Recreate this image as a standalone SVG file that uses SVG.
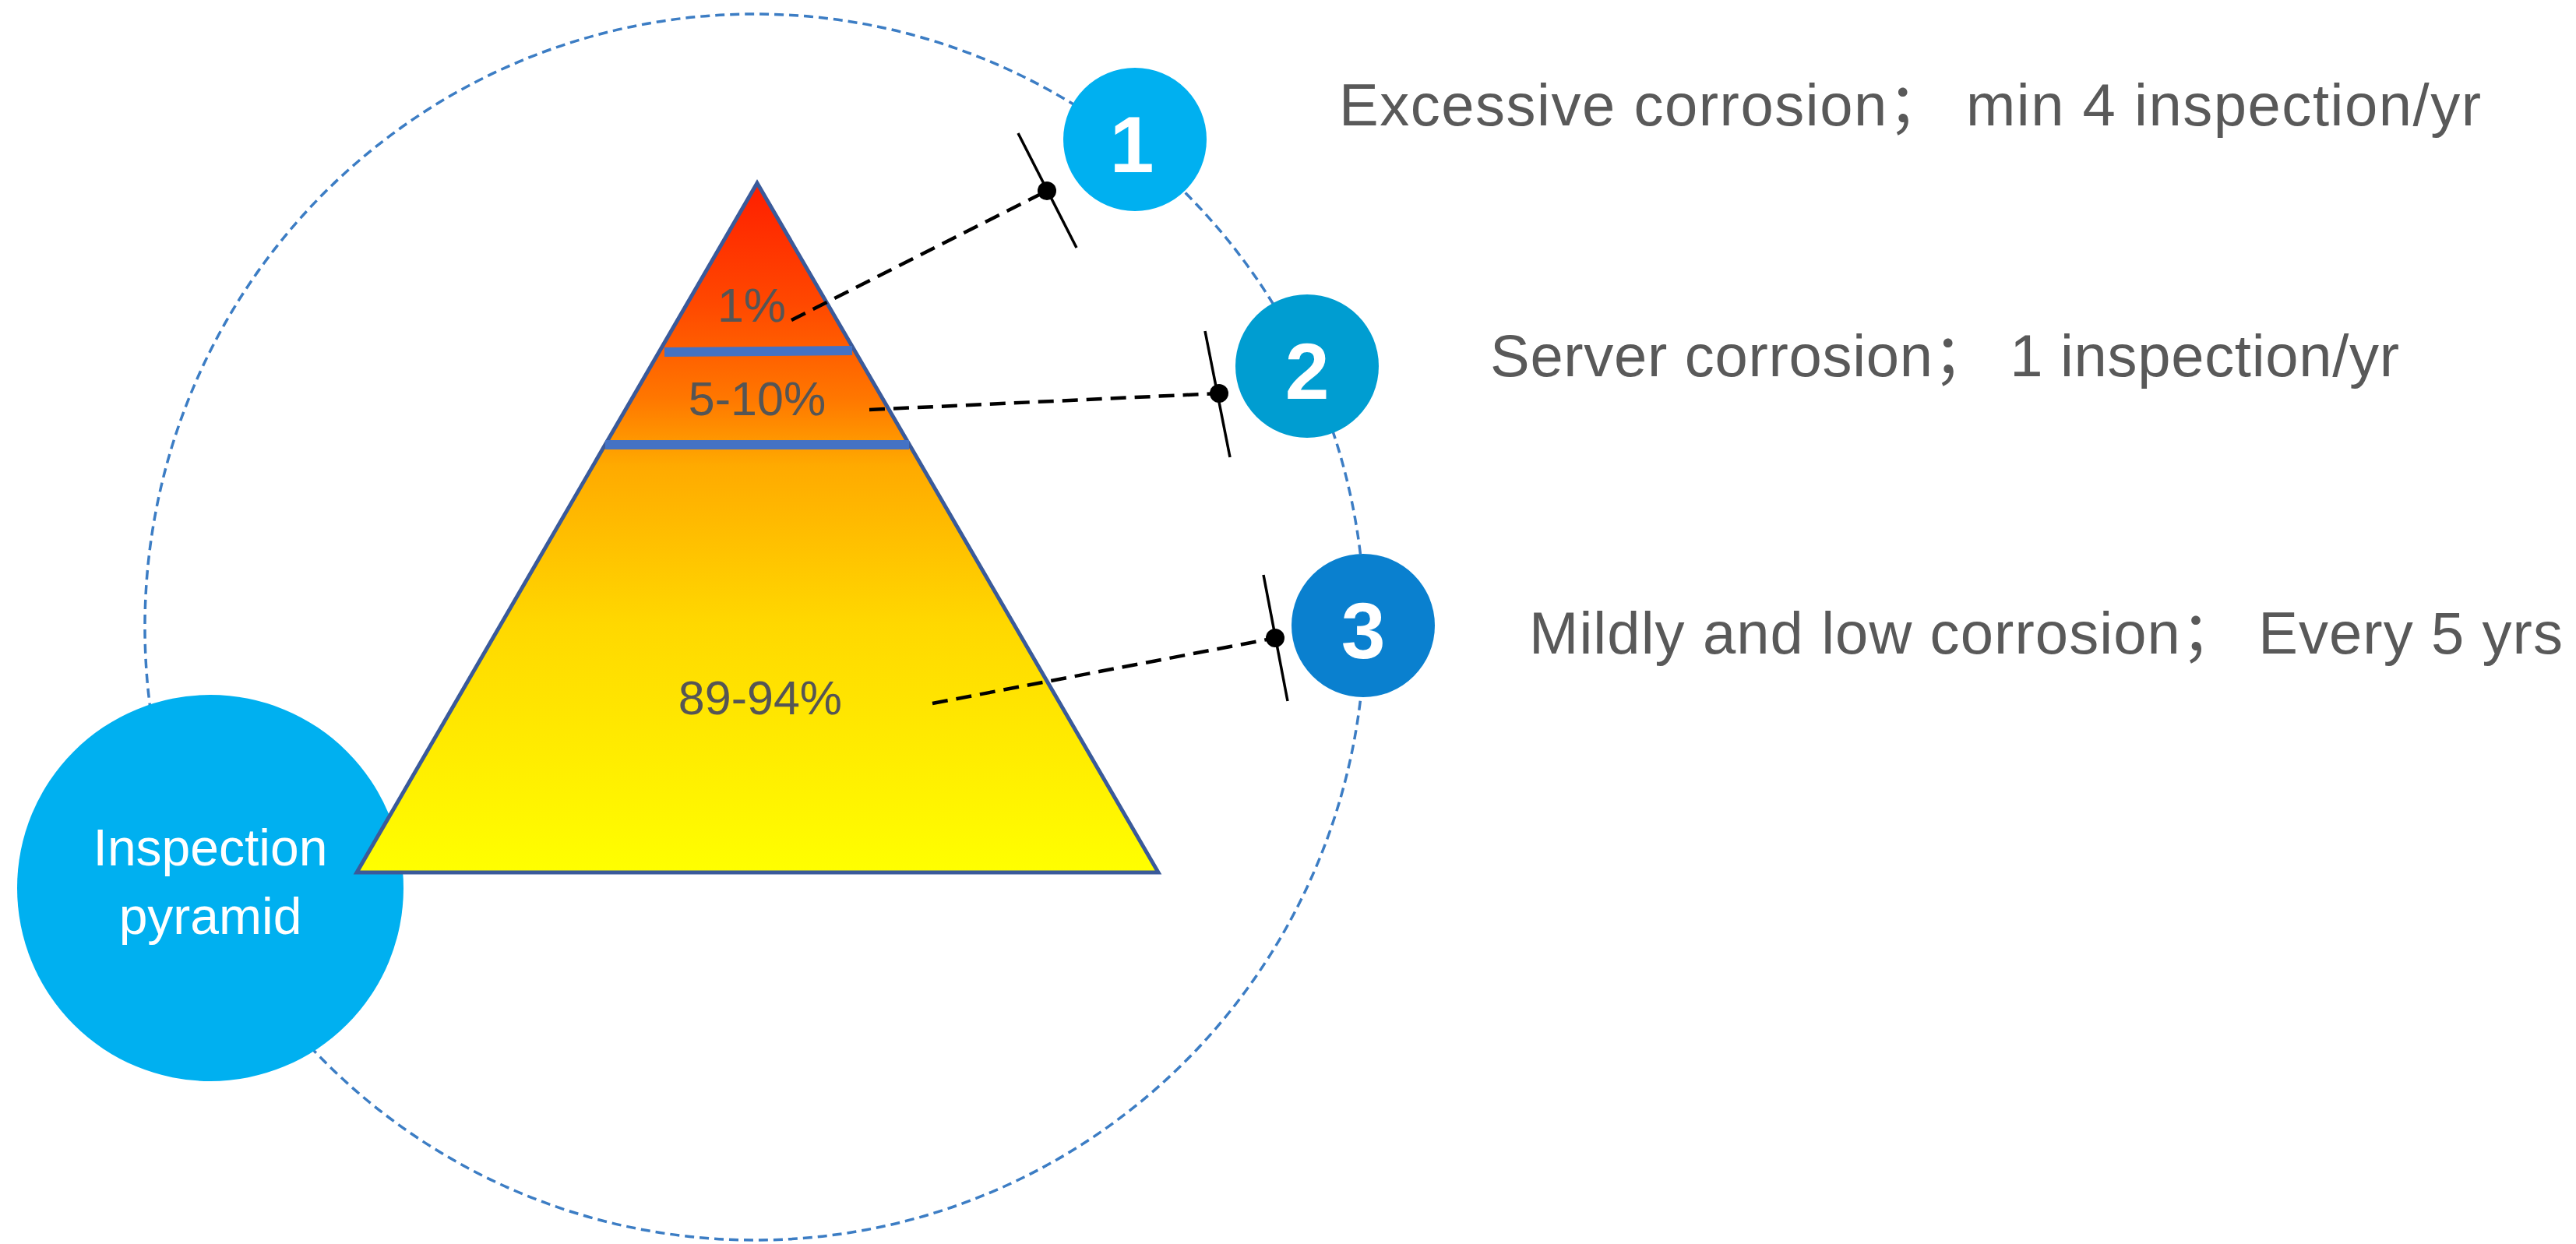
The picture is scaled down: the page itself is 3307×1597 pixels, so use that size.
<svg xmlns="http://www.w3.org/2000/svg" width="3307" height="1597" viewBox="0 0 3307 1597">
  <defs>
    <linearGradient id="pyr" gradientUnits="userSpaceOnUse" x1="0" y1="235" x2="0" y2="1120">
      <stop offset="0" stop-color="#FF1E00"/>
      <stop offset="0.175" stop-color="#FF4800"/>
      <stop offset="0.31" stop-color="#FF7600"/>
      <stop offset="0.41" stop-color="#FFAA00"/>
      <stop offset="0.64" stop-color="#FFD800"/>
      <stop offset="1" stop-color="#FFFF00"/>
    </linearGradient>
  </defs>
  <style>
    .ring { fill: none; stroke: #3C7DC4; stroke-width: 3.5; stroke-dasharray: 12 7; }
    .band { stroke: #4472C4; stroke-width: 12; }
    .pct { font-family: "Liberation Sans", Arial, sans-serif; font-size: 61px; fill: #555555; text-anchor: middle; }
    .num { font-family: "Liberation Sans", Arial, sans-serif; font-size: 102px; font-weight: bold; fill: #FFFFFF; text-anchor: middle; }
    .desc { font-family: "Liberation Sans", Arial, "Noto Sans CJK SC", sans-serif; font-size: 76px; fill: #595959; }
    .lead { stroke: #000000; stroke-width: 4.5; stroke-dasharray: 20 11; fill: none; }
    .tick { stroke: #000000; stroke-width: 3.5; }
    .dot { fill: #000000; }
    .label { font-family: "Liberation Sans", Arial, sans-serif; font-size: 66px; fill: #FFFFFF; text-anchor: middle; }
  </style>
  <rect width="3307" height="1597" fill="#FFFFFF"/>

  <ellipse class="ring" cx="969" cy="805" rx="783" ry="787"/>

  <g id="node-inspection">
    <circle cx="270" cy="1140" r="248" fill="#00B0F0"/>
    <text class="label" x="270" y="1111">Inspection</text>
    <text class="label" x="270" y="1199">pyramid</text>
  </g>

  <g id="pyramid">
    <polygon points="972,235 1487,1120 458,1120" fill="url(#pyr)" stroke="#3A5A9A" stroke-width="5" stroke-linejoin="miter"/>
    <line class="band" x1="853" y1="452" x2="1094" y2="450"/>
    <line class="band" x1="777" y1="571" x2="1167" y2="571"/>
    <text class="pct" x="965" y="413">1%</text>
    <text class="pct" x="972" y="533">5-10%</text>
    <text class="pct" x="976" y="917">89-94%</text>
  </g>

  <g id="node-1">
    <circle cx="1457" cy="179" r="92" fill="#00B0F0"/>
    <text class="num" x="1453" y="221">1</text>
  </g>
  <g id="node-2">
    <circle cx="1678" cy="470" r="92" fill="#009DD1"/>
    <text class="num" x="1678" y="512">2</text>
  </g>
  <g id="node-3">
    <circle cx="1750" cy="803" r="92" fill="#0A80CF"/>
    <text class="num" x="1750" y="845">3</text>
  </g>

  <g id="desc-1">
    <text class="desc" x="1719" y="161" textLength="1466">Excessive corrosion；  min 4 inspection/yr</text>
  </g>
  <g id="desc-2">
    <text class="desc" x="1913" y="483" textLength="1167">Server corrosion；  1 inspection/yr</text>
  </g>
  <g id="desc-3">
    <text class="desc" x="1963" y="839" textLength="1327">Mildly and  low corrosion；  Every 5 yrs</text>
  </g>

  <g id="connectors">
    <line class="lead" x1="1016" y1="411" x2="1344" y2="245"/>
    <line class="tick" x1="1307" y1="171" x2="1382" y2="318"/>
    <circle class="dot" cx="1344" cy="245" r="12"/>

    <line class="lead" x1="1116" y1="526" x2="1565" y2="505"/>
    <line class="tick" x1="1547" y1="425" x2="1579" y2="587"/>
    <circle class="dot" cx="1565" cy="505" r="12"/>

    <line class="lead" x1="1197" y1="903" x2="1637" y2="819"/>
    <line class="tick" x1="1622" y1="738" x2="1653" y2="900"/>
    <circle class="dot" cx="1637" cy="819" r="12"/>
  </g>
</svg>
